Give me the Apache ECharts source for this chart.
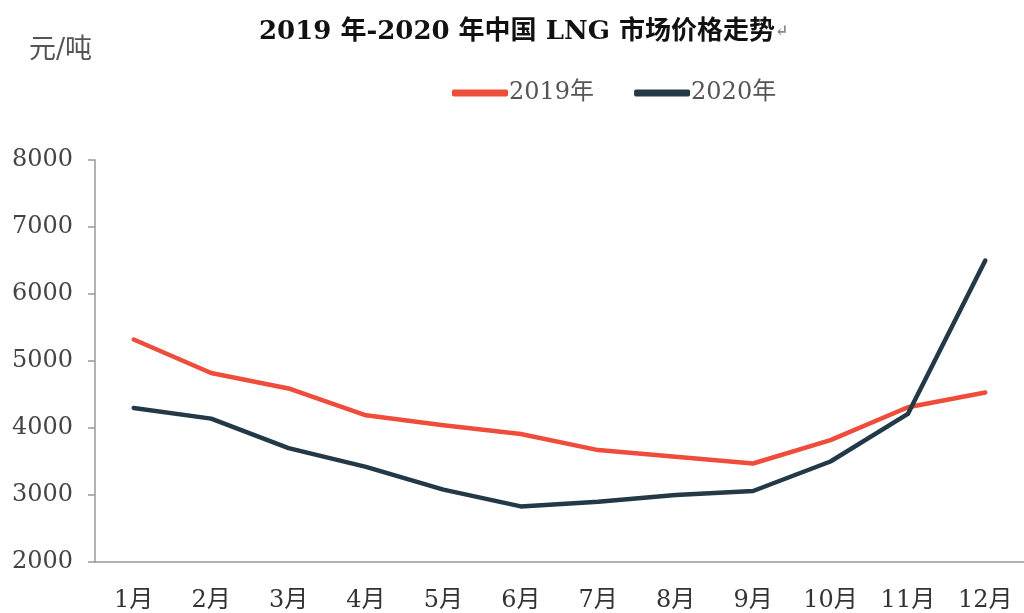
<!DOCTYPE html>
<html><head><meta charset="utf-8">
<script src="https://cdn.jsdelivr.net/npm/echarts@6/dist/echarts.min.js"></script>
<style>html,body{margin:0;padding:0;background:#fff}#c{width:1024px;height:613px}</style>
</head><body><div id="c"></div>
<script>
var months = ['1月','2月','3月','4月','5月','6月','7月','8月','9月','10月','11月','12月'];
var price2019 = [5320, 4820, 4590, 4190, 4040, 3910, 3670, 3570, 3470, 3820, 4310, 4530];
var price2020 = [4300, 4140, 3700, 3420, 3080, 2830, 2900, 3000, 3060, 3500, 4210, 6500];
var yTicks = {min: 2000, max: 8000, interval: 1000};

var serif = "'DejaVu Serif', 'Noto Sans CJK SC', serif";
var chart = echarts.init(document.getElementById('c'));
chart.setOption({
  backgroundColor: '#fff',
  animation: false,
  title: {
    text: '2019 年-2020 年中国 LNG 市场价格走势{r|↵}',
    left: 254, top: 14,
    textStyle: {fontFamily: serif, fontSize: 26, fontWeight: 'bold', color: '#111',
      rich: {r: {fontSize: 16, color: '#888', fontFamily: serif}}}
  },
  legend: {
    top: 76, left: 447,
    itemWidth: 56, itemHeight: 7, itemGap: 40,
    icon: 'roundRect',
    textStyle: {fontFamily: serif, fontSize: 24, color: '#555', padding: [0,0,0,-4]},
    data: ['2019年', '2020年']
  },
  grid: {left: 95, top: 160, width: 932, height: 402},
  xAxis: {
    type: 'category', data: months, boundaryGap: true,
    axisLine: {lineStyle: {color: '#999', width: 1.5}},
    axisTick: {show: false},
    axisLabel: {fontFamily: serif, fontSize: 24, color: '#333', margin: 27}
  },
  yAxis: {
    type: 'value', min: yTicks.min, max: yTicks.max, interval: yTicks.interval,
    name: '元/吨', nameLocation: 'end', nameGap: 0,
    nameTextStyle: {fontFamily: serif, fontSize: 27, color: '#555', align: 'left', padding: [0,0,96,-66]},
    axisLine: {show: true, lineStyle: {color: '#999', width: 1.5}},
    axisTick: {show: true, length: 7, lineStyle: {color: '#999', width: 1.5}},
    splitLine: {show: false},
    axisLabel: {fontFamily: serif, fontSize: 24, color: '#444', margin: 22,
      formatter: function (v) { return String(v); }}
  },
  series: [
    {name: '2019年', type: 'line', data: price2019, symbol: 'none',
     lineStyle: {color: '#ef4c3c', width: 4.5, cap: 'round', join: 'round'}, itemStyle: {color: '#ef4c3c'}},
    {name: '2020年', type: 'line', data: price2020, symbol: 'none',
     lineStyle: {color: '#233947', width: 4.5, cap: 'round', join: 'round'}, itemStyle: {color: '#233947'}}
  ]
});
</script></body></html>
